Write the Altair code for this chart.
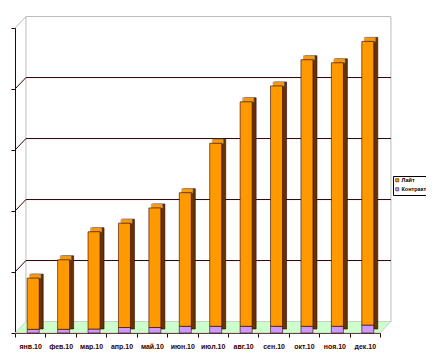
import altair as alt
import pandas as pd

months = ["янв.10", "фев.10", "мар.10", "апр.10", "май.10", "июн.10",
          "июл.10", "авг.10", "сен.10", "окт.10", "ноя.10", "дек.10"]
series_names = ["Лайт", "Контракт"]
lite = [840, 1140, 1595, 1710, 1960, 2190, 3000, 3680, 3940, 4370, 4320, 4650]
kontrakt = [60, 60, 65, 90, 90, 110, 110, 110, 110, 110, 110, 130]
grid_values = [1000, 2000, 3000, 4000]

YMAX = 5000
DX = 0.36      # depth offset in band units
DY = 188       # depth offset in value units

rows = []
for i, m in enumerate(months):
    rows.append({"month": m, "series": "Контракт", "value": kontrakt[i], "ord": 0})
    rows.append({"month": m, "series": "Лайт", "value": lite[i], "ord": 1})
bars_df = pd.DataFrame(rows)
tot_df = pd.DataFrame({"month": months,
                       "total": [a + b for a, b in zip(lite, kontrakt)]})

n = len(months)
floor_df = pd.DataFrame({"fx": [0, DX, n, n + DX],
                         "fy": [0, DY, DY, DY],
                         "fy2": [0, 0, 0, DY]})

frame_rows = []
for j, (x, y) in enumerate([(0, YMAX), (DX, YMAX + DY), (n + DX, YMAX + DY), (n + DX, DY)]):
    frame_rows.append({"seg": "a", "i": j, "gx": x, "gy": y})
for j, (x, y) in enumerate([(DX, DY), (DX, YMAX + DY)]):
    frame_rows.append({"seg": "b", "i": j, "gx": x, "gy": y})
frame_df = pd.DataFrame(frame_rows)

grid_rows = []
for v in grid_values:
    for j, (x, y) in enumerate([(0, v), (DX, v + DY), (n + DX, v + DY)]):
        grid_rows.append({"g": v, "i": j, "gx": x, "gy": y})
grid_df = pd.DataFrame(grid_rows)

yscale = alt.Scale(domain=[0, YMAX], nice=False)
yaxis = alt.Axis(title=None, labels=False, ticks=True, tickSize=4,
                 tickColor="#330000", domainColor="#330000", grid=False,
                 values=[0, 1000, 2000, 3000, 4000, 5000])

def Y(field):
    return alt.Y(field, scale=yscale, axis=yaxis)

xband = alt.X("month:N", sort=months,
              scale=alt.Scale(paddingInner=0, paddingOuter=0),
              axis=alt.Axis(title=None, labelAngle=0, tickBand="extent",
                            tickSize=4, labelFontSize=7,
                            labelFont="Liberation Sans", labelFontWeight="bold",
                            labelColor="#330000", domainColor="#330000",
                            tickColor="#330000", labelPadding=5))

xq = alt.X("fx:Q", scale=alt.Scale(domain=[0, n], nice=False, zero=False), axis=None)

floor = alt.Chart(floor_df).mark_area(color="#CCFFCC", stroke="#BBBBBB",
                                      strokeWidth=0.7).encode(
    x=xq, y=Y("fy:Q"), y2="fy2:Q")

frame = alt.Chart(frame_df).mark_line(color="#BBBBBB", strokeWidth=1).encode(
    x=alt.X("gx:Q", scale=alt.Scale(domain=[0, n], nice=False, zero=False), axis=None),
    y=Y("gy:Q"), detail="seg:N", order="i:Q")

grid = alt.Chart(grid_df).mark_line(color="#330000", strokeWidth=1).encode(
    x=alt.X("gx:Q", scale=alt.Scale(domain=[0, n], nice=False, zero=False), axis=None),
    y=Y("gy:Q"), detail="g:N", order="i:Q")

decor = alt.layer(floor, frame, grid)

shadow = alt.Chart(tot_df).mark_bar(width=12, xOffset=7, yOffset=-4, y2Offset=-4,
                                    color="#663300", stroke="#330000",
                                    strokeWidth=0.6).encode(
    x=xband, y=Y("total:Q"))

topface = alt.Chart(tot_df).mark_bar(width=11, xOffset=5, yOffset=-4, y2Offset=0,
                                     color="#FF9900", stroke="#999999",
                                     strokeWidth=0.6).encode(
    x=xband, y=Y("total:Q"), y2="total:Q")

front = alt.Chart(bars_df).mark_bar(width=12, xOffset=3, stroke="#330000",
                                    strokeWidth=0.6).encode(
    x=xband,
    y=alt.Y("value:Q", stack="zero", scale=yscale, axis=yaxis),
    order=alt.Order("ord:Q"),
    color=alt.Color("series:N",
                    scale=alt.Scale(domain=series_names,
                                    range=["#FF9900", "#CC99FF"]),
                    legend=alt.Legend(title=None, orient="none", legendX=378,
                                      legendY=148, strokeColor="#000000",
                                      fillColor="#FFFFFF", padding=1.5,
                                      labelFontSize=5.5, labelFont="Liberation Sans",
                                      labelFontWeight="bold",
                                      labelColor="#000000",
                                      symbolType="square", symbolSize=10,
                                      symbolStrokeColor="#000000",
                                      symbolStrokeWidth=0.5, rowPadding=2,
                                      labelOffset=1.5)))

bars = alt.layer(shadow, topface, front)

chart = alt.layer(decor, bars).resolve_scale(x="independent").properties(
    width=365, height=305,
    autosize=alt.AutoSizeParams(type="none"),
    padding={"left": 7, "top": 20, "right": 46, "bottom": 17},
    background="white",
).configure_view(stroke=None)

chart.save("out.html", embed_options={"renderer": "svg", "actions": False})
